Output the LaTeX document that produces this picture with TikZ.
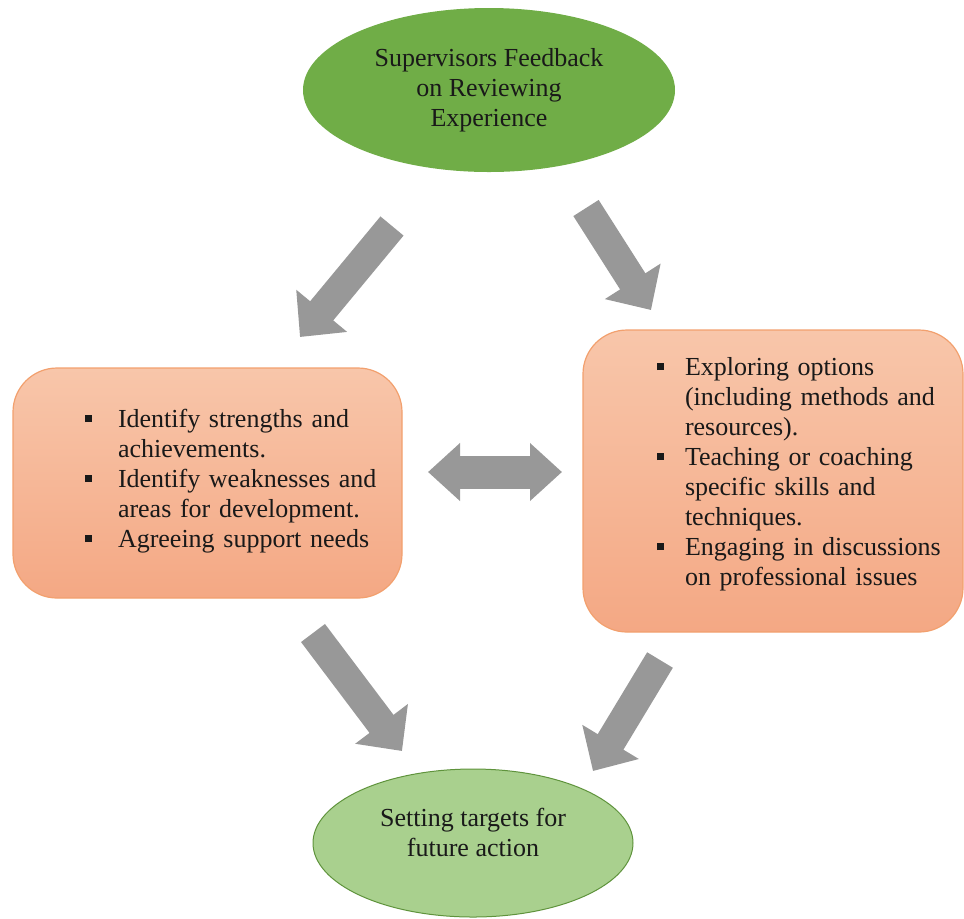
\documentclass[tikz,border=0pt]{standalone}
\usepackage{fontspec}
\setmainfont{Liberation Serif}
\usetikzlibrary{shapes.geometric, arrows.meta}
\definecolor{topgreen}{RGB}{112,173,71}
\definecolor{lowgreen}{RGB}{169,208,142}
\definecolor{boxtop}{RGB}{248,198,170}
\definecolor{boxbot}{RGB}{244,168,132}
\definecolor{boxline}{RGB}{242,160,110}
\definecolor{arrowgray}{RGB}{152,152,152}
\tikzstyle{oval} = [ellipse, text centered, align=center, inner sep=0pt, text=black!90]
\tikzstyle{box} = [rectangle, rounded corners=22pt, draw=boxline, line width=0.6pt, top color=boxtop, bottom color=boxbot, inner sep=0pt, text=black!90]
\tikzstyle{bigarrow} = [arrowgray, line width=15pt, -{Triangle[length=17pt, width=32pt]}]
\newcommand{\sqitem}[2]{\par\hangindent=#1\hangafter=1\noindent\makebox[#1][l]{\rule[2.6pt]{3.5pt}{3.5pt}}#2}

\begin{document}
\begin{tikzpicture}[x=0.5pt, y=-0.5pt, font=\fontsize{13pt}{15pt}\selectfont]
    \useasboundingbox (0,0) rectangle (964,918);

    \node (feedback) [oval, fill=topgreen, minimum width=186pt, minimum height=82pt] at (489,90)
      {Supervisors Feedback\\ on Reviewing\\ Experience};
    \node (strengths) [box, minimum width=194.5pt, minimum height=115pt, text width=194.5pt] at (207.5,483)
      {\leftskip=36pt
        \sqitem{16.5pt}{Identify strengths and\newline achievements.}
        \sqitem{16.5pt}{Identify weaknesses and\newline areas for development.}
        \sqitem{16.5pt}{Agreeing support needs}\par\vspace{8pt}};
    \node (options) [box, minimum width=190pt, minimum height=151pt, text width=190pt] at (773,481)
      {\leftskip=37pt
        \sqitem{14pt}{Exploring options\newline (including methods and\newline resources).}
        \sqitem{14pt}{Teaching or coaching\newline specific skills and\newline techniques.}
        \sqitem{14pt}{Engaging in discussions\newline on professional issues}\par\vspace{13pt}};
    \node (targets) [oval, fill=lowgreen, draw=topgreen!85!black, line width=0.5pt, minimum width=160pt, minimum height=74pt] at (473,843)
      {Setting targets for\\ future action\\[-4pt]};

    \coordinate (fbleft)   at (392,226);
    \coordinate (stin)     at (300,337);
    \coordinate (fbright)  at (586,208);
    \coordinate (opin)     at (651,310);
    \coordinate (stout)    at (313,633);
    \coordinate (tgleft)   at (402,751);
    \coordinate (opout)    at (660,660);
    \coordinate (tgright)  at (593,771);
    \coordinate (stside)   at (428,472);
    \coordinate (opside)   at (562,472);

    \draw [bigarrow] (fbleft)  -- (stin);
    \draw [bigarrow] (fbright) -- (opin);
    \draw [bigarrow] (stout)   -- (tgleft);
    \draw [bigarrow] (opout)   -- (tgright);
    \draw [arrowgray, line width=16.5pt, {Triangle[length=16pt, width=28pt]}-{Triangle[length=16pt, width=28pt]}] (stside) -- (opside);
\end{tikzpicture}
\end{document}
